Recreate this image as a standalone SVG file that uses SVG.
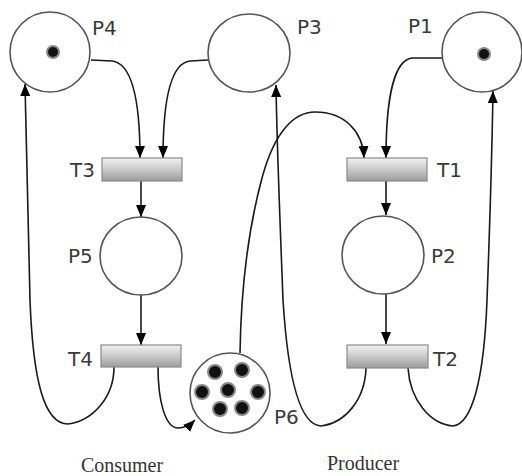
<svg xmlns="http://www.w3.org/2000/svg" width="522" height="476" viewBox="0 0 522 476">
<style>
.place{fill:#ffffff;stroke:#555555;stroke-width:1.6}
.trans{fill:url(#tg);stroke:#8a8a8a;stroke-width:1.2}
.tok{fill:#111111;stroke:#888888;stroke-width:2}
.lbl{font-family:"DejaVu Sans",sans-serif;font-size:20px;fill:#3a3a3a}
.cap{font-family:"Liberation Serif",serif;font-size:20px;fill:#333333;text-anchor:middle}
.arc{fill:none;stroke:#1a1a1a;stroke-width:1.6}
.arr{marker-end:url(#ah)}
</style>
<defs>
<linearGradient id="tg" x1="0" y1="0" x2="0" y2="1">
<stop offset="0" stop-color="#f2f2f2"/>
<stop offset="0.5" stop-color="#c9c9c9"/>
<stop offset="1" stop-color="#9c9c9c"/>
</linearGradient>
<marker id="ah" viewBox="0 0 12 10" refX="12" refY="5" markerWidth="12" markerHeight="10" markerUnits="userSpaceOnUse" orient="auto">
<path d="M0,0 L12,5 L0,10 Z" fill="#000000"/>
</marker>
</defs>
<rect width="522" height="476" fill="#ffffff"/>
<g id="connectors">
<path class="arc arr" d="M91,60 L112,61 C130,63 140,95 140,158"/>
<path class="arc arr" d="M208,60 L190,61 C172,63 163,95 163,158"/>
<path class="arc arr" d="M442,58 L412,58 C395,60 386,95 386,158"/>
<path class="arc arr" d="M240,353 C241,290 248,230 262,178 C275,130 295,112 315,112 C345,112 363,132 364,158"/>
<path class="arc arr" d="M141,181 L141,217"/>
<path class="arc arr" d="M141,295 L141,345"/>
<path class="arc arr" d="M386,181 L386,215"/>
<path class="arc arr" d="M386,294 L386,344"/>
<path class="arc arr" d="M114,367 C114,398 92,421 68,424 C44,424 33,380 30,300 C28,220 26,140 25,84"/>
<path class="arc arr" d="M158,367 C158,400 165,428 178,428 C185,428 190,425 195,420"/>
<path class="arc arr" d="M366,368 C365,400 345,423 321,426 C300,425 288,380 283,300 C280,220 277,150 276,85"/>
<path class="arc arr" d="M408,368 C410,400 430,424 453,426 C472,424 484,380 487,300 C490,220 492,150 493,91"/>
</g>
<g id="P4">
<circle class="place" cx="50" cy="52" r="40"/>
<circle class="tok" cx="53" cy="52" r="6"/>
<text class="lbl" x="92" y="35">P4</text>
</g>
<g id="P3">
<ellipse class="place" cx="249" cy="53" rx="41" ry="39"/>
<text class="lbl" x="297" y="34">P3</text>
</g>
<g id="P1">
<circle class="place" cx="482" cy="52" r="40"/>
<circle class="tok" cx="484" cy="54" r="6"/>
<text class="lbl" x="408" y="33">P1</text>
</g>
<g id="T3">
<rect class="trans" x="102" y="158" width="80" height="23"/>
<text class="lbl" x="70" y="177">T3</text>
</g>
<g id="T1">
<rect class="trans" x="347" y="158" width="80" height="23"/>
<text class="lbl" x="437" y="177">T1</text>
</g>
<g id="P5">
<ellipse class="place" cx="141" cy="256" rx="41" ry="39"/>
<text class="lbl" x="68" y="263">P5</text>
</g>
<g id="P2">
<ellipse class="place" cx="383" cy="255" rx="41" ry="39"/>
<text class="lbl" x="431" y="263">P2</text>
</g>
<g id="T4">
<rect class="trans" x="101" y="345" width="80" height="22"/>
<text class="lbl" x="68" y="366">T4</text>
</g>
<g id="T2">
<rect class="trans" x="347" y="345" width="81" height="23"/>
<text class="lbl" x="433" y="366">T2</text>
</g>
<g id="P6">
<circle class="place" cx="230" cy="393" r="40"/>
<circle class="tok" cx="215" cy="372" r="7"/>
<circle class="tok" cx="242" cy="370" r="7"/>
<circle class="tok" cx="202" cy="392" r="7"/>
<circle class="tok" cx="228" cy="390" r="7"/>
<circle class="tok" cx="258" cy="392" r="7"/>
<circle class="tok" cx="220" cy="409" r="7"/>
<circle class="tok" cx="242" cy="408" r="7"/>
<text class="lbl" x="274" y="424">P6</text>
</g>
<g id="captions">
<text class="cap" x="122" y="472">Consumer</text>
<text class="cap" x="363" y="470">Producer</text>
</g>
</svg>
